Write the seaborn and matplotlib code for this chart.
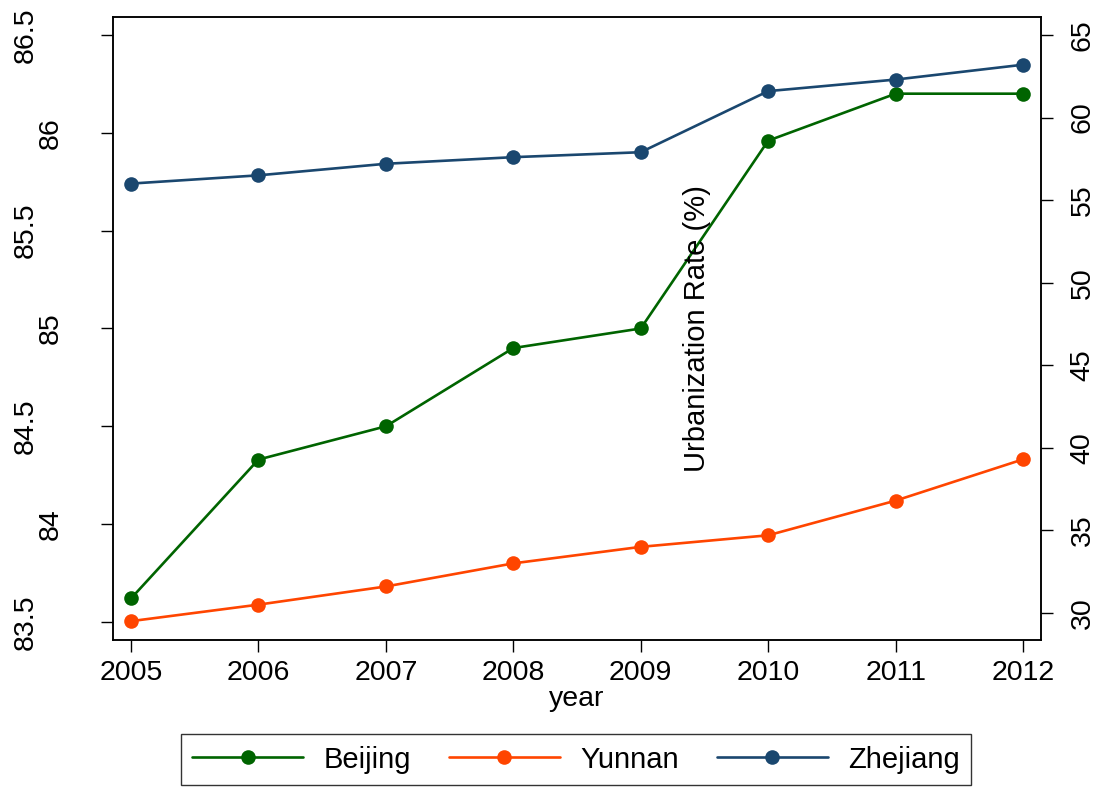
import matplotlib
matplotlib.use("Agg")
import matplotlib.pyplot as plt
import matplotlib.transforms as mtransforms
import seaborn as sns
import pandas as pd

# Urbanization rate (%) by province, 2005-2012
years = [2005, 2006, 2007, 2008, 2009, 2010, 2011, 2012]
beijing = [83.62, 84.33, 84.50, 84.90, 85.00, 85.96, 86.20, 86.20]
yunnan = [29.5, 30.5, 31.6, 33.0, 34.0, 34.7, 36.8, 39.3]
zhejiang = [56.0, 56.5, 57.2, 57.6, 57.9, 61.6, 62.3, 63.2]

left_ticks = [83.5, 84, 84.5, 85, 85.5, 86, 86.5]
left_tick_labels = ["83.5", "84", "84.5", "85", "85.5", "86", "86.5"]
right_ticks = [30, 35, 40, 45, 50, 55, 60, 65]

colors = {"Beijing": "#006400", "Yunnan": "#FF4500", "Zhejiang": "#1A476F"}

sns.set_style("white")
plt.rcParams["font.family"] = ["Liberation Sans", "DejaVu Sans"]
plt.rcParams["font.size"] = 20
plt.rcParams["text.color"] = "black"
plt.rcParams["axes.labelcolor"] = "black"
plt.rcParams["xtick.color"] = "black"
plt.rcParams["ytick.color"] = "black"

df = pd.DataFrame({"year": years, "Beijing": beijing,
                   "Yunnan": yunnan, "Zhejiang": zhejiang})

fig = plt.figure(figsize=(10.94, 7.90), dpi=100)
ax = fig.add_axes([0.1033, 0.1899, 0.8483, 0.7886])
ax2 = ax.twinx()

line_kw = dict(marker="o", markersize=10.5, linewidth=1.9, markeredgewidth=0)
sns.lineplot(data=df, x="year", y="Beijing", ax=ax, color=colors["Beijing"],
             label="Beijing", legend=False, **line_kw)
sns.lineplot(data=df, x="year", y="Yunnan", ax=ax2, color=colors["Yunnan"],
             label="Yunnan", legend=False, **line_kw)
sns.lineplot(data=df, x="year", y="Zhejiang", ax=ax2, color=colors["Zhejiang"],
             label="Zhejiang", legend=False, **line_kw)

ax.set_xlim(2004.859, 2012.141)
ax.set_ylim(83.408, 86.592)
ax2.set_ylim(28.36, 66.09)

ax.set_xticks(years)
ax.set_xticklabels([str(y) for y in years])
ax.set_yticks(left_ticks)
ax.set_yticklabels(left_tick_labels)
ax2.set_yticks(right_ticks)
ax2.set_yticklabels([str(t) for t in right_ticks])

ax.set_xlabel("year", fontsize=20.5, labelpad=0, color="black")
ax.set_ylabel("")
ax2.set_ylabel("")

for a in (ax, ax2):
    for sp in a.spines.values():
        sp.set_linewidth(1.1)
        sp.set_color("black")

ax.tick_params(axis="x", direction="out", length=8.5, width=1.0,
               labelsize=20.5, pad=6, bottom=True, colors="black")
ax.tick_params(axis="y", direction="out", length=8.5, width=1.0,
               labelsize=20.5, pad=27, left=True, labelrotation=90, colors="black")
ax2.tick_params(axis="y", direction="out", length=8.5, width=1.0,
                labelsize=20.5, pad=12, right=True, labelrotation=90, colors="black")

for lab in ax.get_yticklabels():
    lab.set_va("center")
    if "." in lab.get_text():
        lab.set_transform(lab.get_transform() +
                          mtransforms.ScaledTranslation(-0.25, 0, fig.dpi_scale_trans))
for lab in ax2.get_yticklabels():
    lab.set_va("center")

# right-axis title, drawn inside the plotting area
ax.text(0.629, 0.5, "Urbanization Rate (%)", transform=ax.transAxes,
        rotation=90, ha="center", va="center", fontsize=21, color="black")

handles = ax.get_lines()[:1] + ax2.get_lines()[:2]
labels = ["Beijing", "Yunnan", "Zhejiang"]
leg = fig.legend(handles, labels, loc="center", bbox_to_anchor=(0.5265, 0.0385),
                 ncol=3, frameon=True, fancybox=False, fontsize=21,
                 handlelength=3.8, handletextpad=0.7, columnspacing=1.3,
                 borderpad=0.4, edgecolor="black")
leg.get_frame().set_linewidth(1.0)
for t in leg.get_texts():
    t.set_color("black")

fig.savefig("out.png", dpi=100, facecolor="white")
